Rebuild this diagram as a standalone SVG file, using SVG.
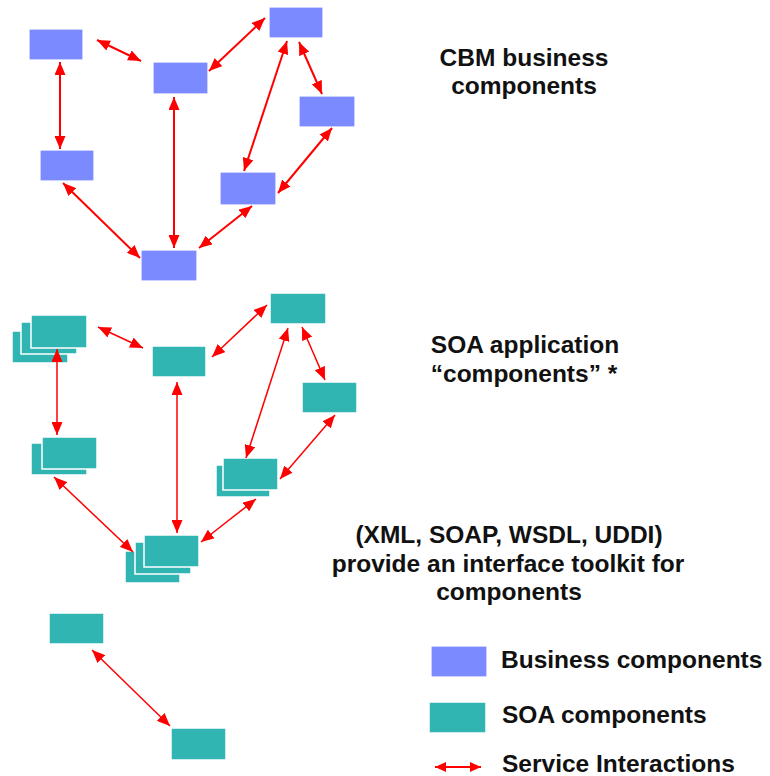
<svg xmlns="http://www.w3.org/2000/svg" width="770" height="776" viewBox="0 0 770 776">
  <style>
    .biz { fill: #7b8bff; stroke: #ffffff; stroke-width: 1.2; }
    .soa { fill: #30b5b3; stroke: #ffffff; stroke-width: 1.5; }
    .link { stroke: #ff0000; fill: none; marker-start: url(#head); marker-end: url(#head); }
    .thick { stroke-width: 2; }
    .thin { stroke-width: 1.5; }
    .label { font-family: "Liberation Sans", Arial, sans-serif; font-weight: bold; font-size: 24.5px; fill: #111111; }
    .mid { text-anchor: middle; }
  </style>
  <defs>
    <marker id="head" viewBox="0 0 13 11" refX="13" refY="5.5" markerWidth="13" markerHeight="11" markerUnits="userSpaceOnUse" orient="auto-start-reverse">
      <path d="M0,0 L13,5.5 L0,11 Z" fill="#ff0000"/>
    </marker>
    <marker id="headS" viewBox="0 0 11 10" refX="11" refY="5" markerWidth="11" markerHeight="10" markerUnits="userSpaceOnUse" orient="auto-start-reverse">
      <path d="M0,0 L11,5 L0,10 Z" fill="#ff0000"/>
    </marker>
  </defs>
  <rect width="770" height="776" fill="#ffffff"/>

  <!-- CBM business components -->
  <g id="biz-1"><rect class="biz" x="29" y="29" width="54" height="31"/></g>
  <g id="biz-2"><rect class="biz" x="153" y="62" width="55" height="32"/></g>
  <g id="biz-3"><rect class="biz" x="269" y="7" width="54" height="31"/></g>
  <g id="biz-4"><rect class="biz" x="299" y="96" width="56" height="31"/></g>
  <g id="biz-5"><rect class="biz" x="40" y="150" width="54" height="31"/></g>
  <g id="biz-6"><rect class="biz" x="220" y="172" width="56" height="33"/></g>
  <g id="biz-7"><rect class="biz" x="141" y="250" width="56" height="31"/></g>

  <!-- SOA application components (stacked shapes are multi-instance) -->
  <g id="soa-1">
    <rect class="soa" x="12" y="331" width="56" height="32"/>
    <rect class="soa" x="21" y="322" width="56" height="32"/>
    <rect class="soa" x="31" y="315" width="56" height="33"/>
  </g>
  <g id="soa-2"><rect class="soa" x="152" y="346" width="54" height="31"/></g>
  <g id="soa-3"><rect class="soa" x="270" y="293" width="56" height="31"/></g>
  <g id="soa-4"><rect class="soa" x="302" y="382" width="55" height="31"/></g>
  <g id="soa-5">
    <rect class="soa" x="31" y="443" width="56" height="32"/>
    <rect class="soa" x="42" y="437" width="55" height="32"/>
  </g>
  <g id="soa-6">
    <rect class="soa" x="216" y="465" width="54" height="32"/>
    <rect class="soa" x="223" y="458" width="55" height="32"/>
  </g>
  <g id="soa-7">
    <rect class="soa" x="125" y="551" width="55" height="32"/>
    <rect class="soa" x="135" y="542" width="56" height="32"/>
    <rect class="soa" x="144" y="535" width="55" height="32"/>
  </g>

  <!-- single interaction pair -->
  <g id="soa-8"><rect class="soa" x="49" y="613" width="55" height="31"/></g>
  <g id="soa-9"><rect class="soa" x="171" y="728" width="55" height="32"/></g>

  <!-- service interactions -->
  <g id="connectors">
    <line class="link thick" x1="97" y1="40" x2="141" y2="61"/>
    <line class="link thick" x1="265" y1="18" x2="209" y2="71"/>
    <line class="link thick" x1="60" y1="62" x2="60" y2="149"/>
    <line class="link thick" x1="174" y1="97" x2="174" y2="248"/>
    <line class="link thick" x1="287" y1="41" x2="244" y2="171"/>
    <line class="link thick" x1="299" y1="42" x2="322" y2="94"/>
    <line class="link thick" x1="332" y1="128" x2="278" y2="193"/>
    <line class="link thick" x1="63" y1="183" x2="140" y2="258"/>
    <line class="link thick" x1="252" y1="206" x2="199" y2="248"/>

    <line class="link thin" x1="98" y1="327" x2="143" y2="348"/>
    <line class="link thin" x1="267" y1="305" x2="212" y2="357"/>
    <line class="link thin" x1="57" y1="349" x2="57" y2="435"/>
    <line class="link thin" x1="177" y1="382" x2="177" y2="533"/>
    <line class="link thin" x1="288" y1="328" x2="246" y2="458"/>
    <line class="link thin" x1="302" y1="327" x2="325" y2="380"/>
    <line class="link thin" x1="335" y1="415" x2="280" y2="479"/>
    <line class="link thin" x1="54" y1="477" x2="133" y2="552"/>
    <line class="link thin" x1="256" y1="499" x2="201" y2="542"/>

    <line class="link thin" x1="92" y1="650" x2="170" y2="726"/>
  </g>

  <!-- captions -->
  <g id="caption-cbm" class="label mid">
    <text x="524" y="66">CBM business</text>
    <text x="524" y="94">components</text>
  </g>
  <g id="caption-soa" class="label mid">
    <text x="525" y="353">SOA application</text>
    <text x="524" y="382">“components” *</text>
  </g>
  <g id="caption-toolkit" class="label mid">
    <text x="509" y="543">(XML, SOAP, WSDL, UDDI)</text>
    <text x="508" y="572">provide an interface toolkit for</text>
    <text x="509" y="600">components</text>
  </g>

  <!-- legend -->
  <g id="legend">
    <rect class="biz" x="431" y="646" width="56" height="31"/>
    <text class="label" x="501" y="668">Business components</text>
    <rect class="soa" x="429" y="702" width="57" height="31"/>
    <text class="label" x="502" y="723">SOA components</text>
    <line x1="435" y1="767" x2="481" y2="767" stroke="#ff0000" stroke-width="2" marker-start="url(#headS)" marker-end="url(#headS)"/>
    <text class="label" x="502" y="772">Service Interactions</text>
  </g>
</svg>
